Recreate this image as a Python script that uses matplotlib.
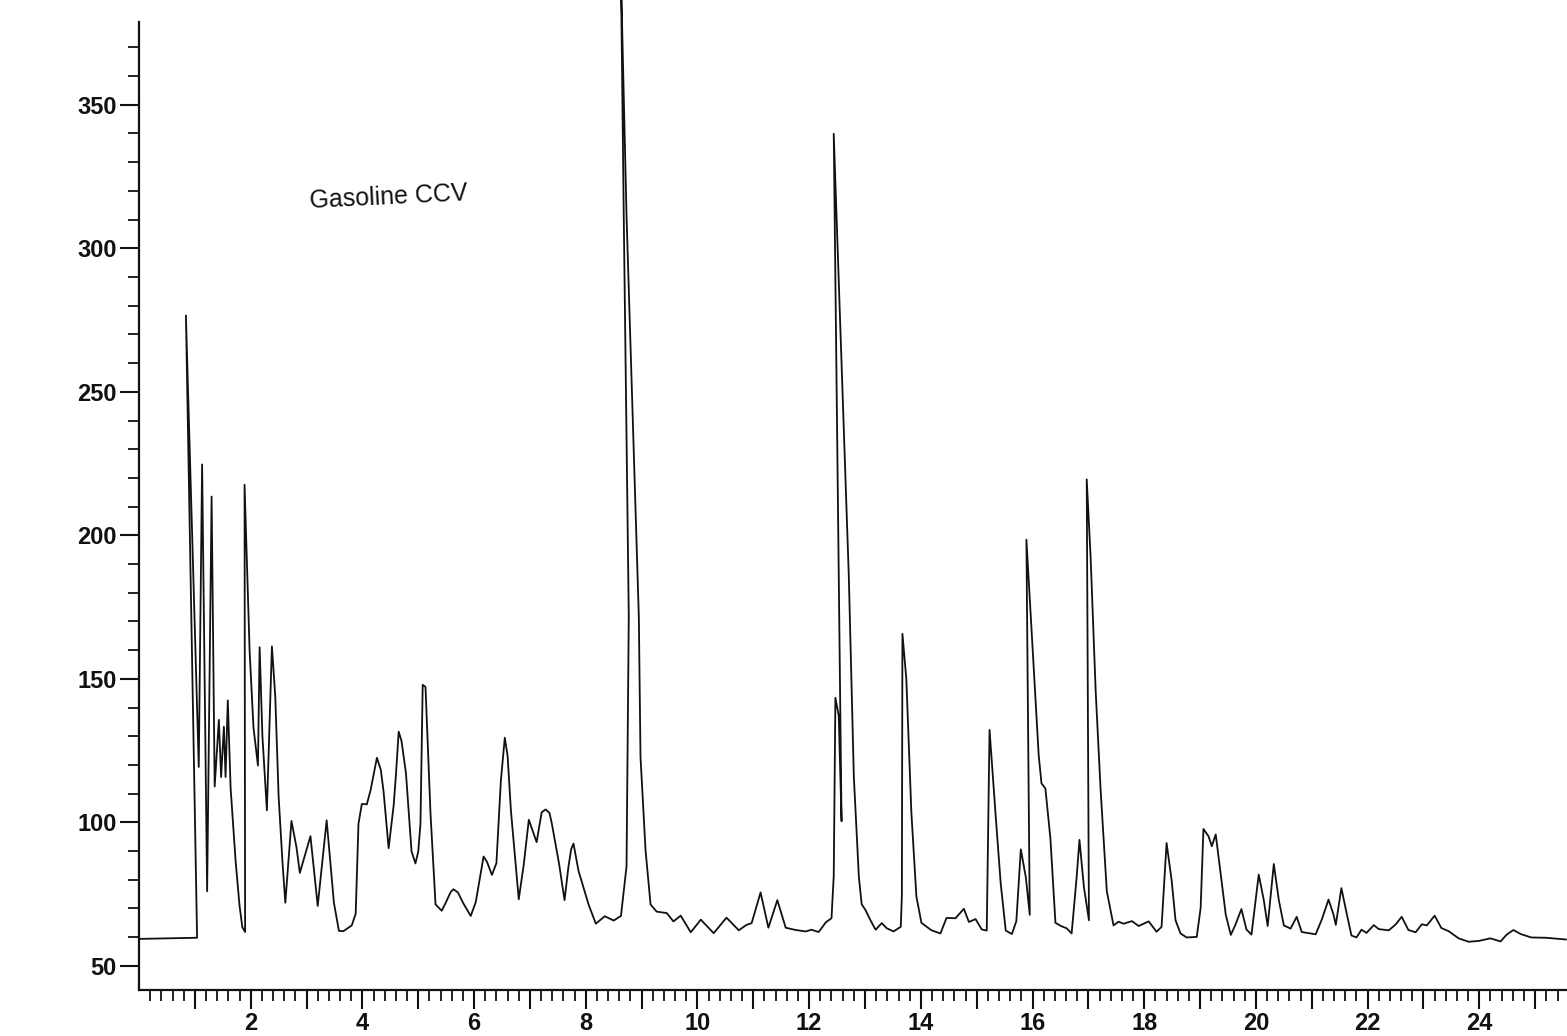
import numpy as np
import matplotlib
matplotlib.use("Agg")
import matplotlib.pyplot as plt
from matplotlib.ticker import FixedLocator, FuncFormatter

plt.rcParams['font.family'] = ['Liberation Sans', 'DejaVu Sans']

# ---- data (time in min, detector response) ----
title_text = "Gasoline CCV"

time = [
    0.00, 1.04, 0.84, 0.98, 1.07, 1.13, 1.22, 1.30, 1.355, 1.43,
    1.47, 1.52, 1.55, 1.59, 1.64, 1.73, 1.80, 1.85, 1.90, 1.89,
    1.98, 2.05, 2.13, 2.16, 2.21, 2.29, 2.38, 2.44, 2.50, 2.57,
    2.62, 2.73, 2.82, 2.88, 3.07, 3.20, 3.36, 3.49, 3.58, 3.66,
    3.81, 3.88, 3.93, 3.99, 4.08, 4.15, 4.26, 4.33, 4.38, 4.47,
    4.56, 4.60, 4.65, 4.70, 4.78, 4.88, 4.95, 5.00, 5.04, 5.08,
    5.13, 5.22, 5.31, 5.42, 5.49, 5.58, 5.63, 5.71, 5.81, 5.94,
    6.03, 6.10, 6.17, 6.23, 6.32, 6.40, 6.48, 6.55, 6.60, 6.66,
    6.80, 6.89, 6.98, 7.12, 7.21, 7.28, 7.35, 7.39, 7.52, 7.62,
    7.69, 7.74, 7.78, 7.87, 8.05, 8.18, 8.34, 8.50, 8.63, 8.73,
    8.77, 8.68, 8.63, 8.73, 8.95, 8.98, 9.07, 9.16, 9.27, 9.45,
    9.57, 9.70, 9.88, 10.06, 10.29, 10.52, 10.74, 10.88, 10.97, 11.13,
    11.27, 11.43, 11.58, 11.76, 11.94, 12.04, 12.17, 12.30, 12.40, 12.44,
    12.47, 12.53, 12.58, 12.44, 12.71, 12.80, 12.89, 12.94, 13.01, 13.10,
    13.19, 13.30, 13.39, 13.51, 13.64, 13.66, 13.67, 13.74, 13.83, 13.92,
    14.01, 14.19, 14.35, 14.46, 14.62, 14.77, 14.86, 14.98, 15.09, 15.18,
    15.23, 15.34, 15.43, 15.52, 15.63, 15.71, 15.79, 15.88, 15.95, 15.89,
    15.98, 16.11, 16.16, 16.23, 16.32, 16.41, 16.52, 16.61, 16.70, 16.79,
    16.84, 16.92, 17.01, 16.97, 17.04, 17.13, 17.22, 17.33, 17.45, 17.54,
    17.63, 17.78, 17.90, 18.08, 18.22, 18.31, 18.35, 18.40, 18.49, 18.56,
    18.65, 18.76, 18.94, 19.01, 19.06, 19.15, 19.21, 19.28, 19.37, 19.46,
    19.55, 19.63, 19.74, 19.83, 19.92, 20.05, 20.14, 20.21, 20.32, 20.41,
    20.50, 20.62, 20.73, 20.82, 21.07, 21.18, 21.30, 21.39, 21.43, 21.53,
    21.62, 21.71, 21.80, 21.89, 21.98, 22.11, 22.20, 22.38, 22.50, 22.61,
    22.73, 22.86, 22.97, 23.06, 23.20, 23.32, 23.45, 23.63, 23.81, 23.99,
    24.20, 24.38, 24.49, 24.61, 24.74, 24.93, 25.19, 25.55,
]

signal = [
    59.4, 59.8, 276.6, 181.6, 119.3, 224.7, 76.0, 213.5, 112.5, 135.7,
    115.8, 133.3, 115.8, 142.5, 112.1, 86.5, 71.0, 63.5, 61.8, 217.6,
    160.0, 133.0, 119.8, 161.0, 130.0, 104.2, 161.3, 143.9, 109.0, 85.9,
    72.0, 100.5, 91.3, 82.4, 95.2, 70.9, 100.7, 72.0, 62.2, 62.1,
    64.1, 68.2, 99.5, 106.4, 106.3, 111.5, 122.5, 118.3, 110.6, 91.0,
    105.9, 116.3, 131.6, 128.4, 117.2, 89.9, 85.7, 89.8, 99.5, 147.9,
    147.2, 102.9, 71.4, 69.2, 71.9, 75.7, 76.7, 75.6, 71.7, 67.4,
    72.2, 80.1, 88.1, 86.3, 81.7, 85.8, 114.6, 129.5, 123.2, 104.0,
    73.2, 85.4, 100.9, 93.1, 103.5, 104.5, 103.3, 99.8, 85.8, 72.9,
    84.6, 90.8, 92.6, 83.1, 71.4, 64.7, 67.3, 65.8, 67.4, 84.7,
    171.8, 311.3, 395.0, 311.2, 171.6, 122.8, 90.3, 71.4, 68.9, 68.4,
    65.5, 67.5, 61.7, 66.1, 61.4, 66.8, 62.4, 64.3, 64.9, 75.6,
    63.3, 72.9, 63.3, 62.5, 62.0, 62.6, 61.8, 65.2, 66.6, 81.4,
    143.4, 137.1, 100.4, 339.9, 185.7, 115.9, 81.0, 71.5, 69.4, 65.8,
    62.6, 64.9, 63.1, 62.0, 63.6, 74.4, 165.7, 149.9, 103.5, 74.2,
    65.0, 62.4, 61.3, 66.7, 66.6, 69.9, 65.3, 66.3, 62.7, 62.3,
    132.2, 102.2, 78.7, 62.3, 61.1, 65.6, 90.6, 80.8, 67.8, 198.5,
    167.8, 123.4, 113.6, 111.8, 94.3, 65.0, 63.8, 63.1, 61.3, 81.0,
    93.9, 77.4, 65.9, 219.5, 192.3, 145.9, 110.9, 76.0, 64.1, 65.4,
    64.7, 65.6, 63.9, 65.5, 61.9, 63.6, 76.5, 92.8, 79.9, 65.9,
    61.3, 59.9, 60.1, 70.2, 97.7, 95.2, 91.7, 95.8, 81.8, 67.8,
    60.8, 64.2, 69.8, 62.7, 60.9, 81.8, 73.0, 63.9, 85.5, 72.9,
    64.1, 63.0, 67.1, 61.8, 61.0, 66.2, 73.1, 67.8, 64.3, 77.1,
    68.7, 60.6, 59.9, 62.6, 61.5, 64.2, 62.8, 62.4, 64.4, 67.1,
    62.5, 61.7, 64.5, 64.1, 67.5, 63.2, 62.1, 59.6, 58.4, 58.7,
    59.6, 58.5, 60.9, 62.5, 61.1, 59.9, 59.8, 59.2,
]

y_major = [50, 100, 150, 200, 250, 300, 350]
y_minor = [v for v in range(60, 380, 10) if v % 50 != 0]
x_major = list(range(1, 26))
x_minor = [round(v, 1) for v in np.arange(0.2, 25.6, 0.2) if abs(v - round(v)) > 0.05]

x_range = (0.0, 25.57)
y_range = (41.6, 386.5)
y_spine_top = 379.0

# ---- figure ----
W, H = 1567, 1036
fig = plt.figure(figsize=(W / 100, H / 100), dpi=100)
fig.patch.set_facecolor('white')
ax = fig.add_axes([139 / W, 46 / H, (W - 139) / W, 990 / H])
ax.set_facecolor('white')

ax.plot(time, signal, color='#111111', lw=1.3, solid_joinstyle='round')

ax.set_xlim(*x_range)
ax.set_ylim(*y_range)

for s in ('top', 'right'):
    ax.spines[s].set_visible(False)
ax.spines['left'].set_bounds(y_range[0], y_spine_top)
for s in ('left', 'bottom'):
    ax.spines[s].set_linewidth(1.6)
    ax.spines[s].set_color('#111111')

ax.xaxis.set_major_locator(FixedLocator(x_major))
ax.xaxis.set_minor_locator(FixedLocator(x_minor))
ax.xaxis.set_major_formatter(FuncFormatter(lambda v, p: f"{int(round(v))}" if int(round(v)) % 2 == 0 else ""))
ax.yaxis.set_major_locator(FixedLocator(y_major))
ax.yaxis.set_minor_locator(FixedLocator(y_minor))
ax.yaxis.set_major_formatter(FuncFormatter(lambda v, p: f"{int(v)}"))

ax.tick_params(which='major', direction='out', length=14, width=1.5, color='#111111',
               labelsize=17, pad=2, labelcolor='#111111')
ax.tick_params(which='minor', direction='out', length=8, width=1.3, color='#111111')
for lab in ax.get_xticklabels() + ax.get_yticklabels():
    lab.set_fontweight('bold')

fig.text(389 / W, 1 - 197 / H, title_text, fontsize=18, ha='center', va='center',
         rotation=2.8, rotation_mode='anchor', color='#111111')

fig.savefig('out.png', dpi=100, facecolor='white')
